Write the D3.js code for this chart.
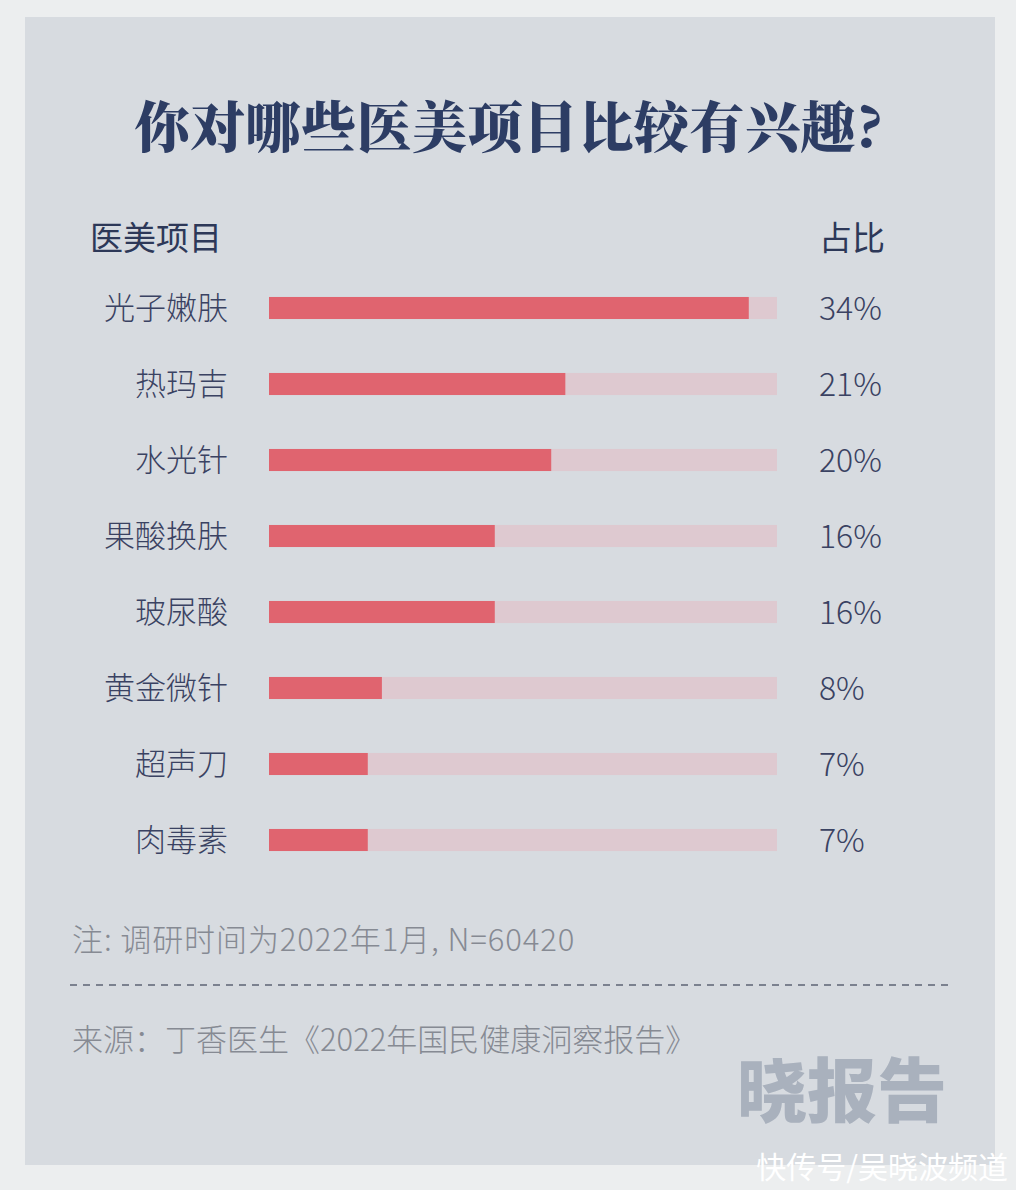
<!DOCTYPE html>
<html><head><meta charset="utf-8">
<script src="https://cdn.jsdelivr.net/npm/d3@7/dist/d3.min.js"></script>
<style>
html,body{margin:0;padding:0;background:#eceeef;}
svg{display:block;}
</style></head>
<body>
<script>
const categories = ["光子嫩肤","热玛吉","水光针","果酸换肤","玻尿酸","黄金微针","超声刀","肉毒素"];
const values = [34,21,20,16,16,8,7,7];
const valueLabels = ["34%","21%","20%","16%","16%","8%","7%","7%"];
const title = "你对哪些医美项目比较有兴趣?";
const headerLeft = "医美项目";
const headerRight = "占比";
const note = "注: 调研时间为2022年1月, N=60420";
const source = "来源：丁香医生《2022年国民健康洞察报告》";
const brand = "晓报告";
const watermark = "快传号/吴晓波频道";

const W = 1016, H = 1190;
const font = "'Noto Sans CJK SC','Noto Sans',sans-serif";
const svg = d3.select("body").append("svg").attr("width", W).attr("height", H);

svg.append("rect").attr("width", W).attr("height", H).attr("fill", "#eceeef");
svg.append("rect").attr("x", 25).attr("y", 17).attr("width", 970).attr("height", 1148).attr("fill", "#d7dbe0");

svg.append("text").attr("x", 509).attr("y", 147).attr("text-anchor", "middle")
  .attr("font-family", "'Noto Serif CJK SC','Noto Sans CJK SC',serif").attr("font-weight", 900)
  .attr("font-size", 55).attr("fill", "#2d3d64").attr("letter-spacing", 0.5).text(title);

svg.append("text").attr("x", 90).attr("y", 250).attr("font-family", font).attr("font-weight", 400)
  .attr("font-size", 33).attr("fill", "#2d3858").text(headerLeft);
svg.append("text").attr("x", 819).attr("y", 250).attr("font-family", font).attr("font-weight", 400)
  .attr("font-size", 33).attr("fill", "#2d3858").text(headerRight);

const x = d3.scaleLinear().domain([0, 36]).range([269, 777]);
const y = d3.scaleBand().domain(categories).range([270, 878]).paddingInner(0.71).paddingOuter(0.355);

const g = svg.append("g");
const rows = g.selectAll("g.row").data(categories).join("g").attr("class", "row");

rows.append("rect").attr("x", x(0)).attr("y", d => y(d)).attr("width", x(36) - x(0))
  .attr("height", y.bandwidth()).attr("fill", "#dec9d0");
rows.append("rect").attr("x", x(0)).attr("y", d => y(d))
  .attr("width", (d, i) => x(values[i]) - x(0)).attr("height", y.bandwidth()).attr("fill", "#e0646f");

rows.append("text").attr("x", 228).attr("y", d => y(d) + y.bandwidth() / 2)
  .attr("dy", "0.36em").attr("text-anchor", "end").attr("font-family", font).attr("font-weight", 300)
  .attr("font-size", 31).attr("fill", "#3a4262").text(d => d);
rows.append("text").attr("x", 819).attr("y", d => y(d) + y.bandwidth() / 2)
  .attr("dy", "0.36em").attr("font-family", font).attr("font-weight", 300)
  .attr("font-size", 32).attr("fill", "#3a4262").text((d, i) => valueLabels[i]);

svg.append("text").attr("x", 72).attr("y", 951).attr("font-family", font).attr("font-weight", 300)
  .attr("font-size", 31).attr("letter-spacing", 0.9).attr("fill", "#868a93").text(note);
svg.append("line").attr("x1", 70).attr("x2", 948).attr("y1", 985).attr("y2", 985)
  .attr("stroke", "#5d6474").attr("stroke-width", 1.5).attr("stroke-dasharray", "7,6");
svg.append("text").attr("x", 72).attr("y", 1051).attr("font-family", font).attr("font-weight", 300)
  .attr("font-size", 31).attr("fill", "#868a93").text(source);

svg.append("text").attr("x", 947).attr("y", 1117).attr("text-anchor", "end").attr("font-family", font)
  .attr("font-weight", 900).attr("font-size", 70).attr("fill", "#a9b1bd").text(brand);
svg.append("text").attr("x", 1008).attr("y", 1178).attr("text-anchor", "end").attr("font-family", font)
  .attr("font-size", 30).attr("fill", "#ffffff").text(watermark);
</script>
</body></html>
